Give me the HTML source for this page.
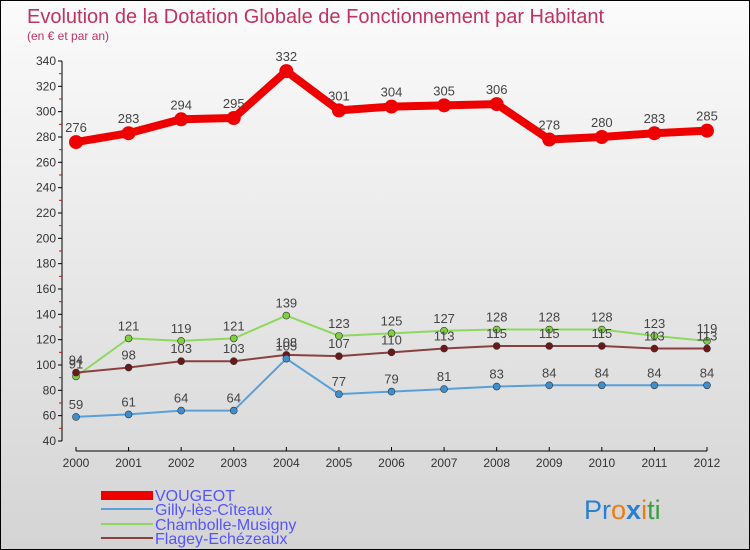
<!DOCTYPE html>
<html><head><meta charset="utf-8"><style>
body{margin:0;}
#c{width:748px;height:548px;border:1px solid #000;background:linear-gradient(#fbfbfb,#d4d4d4);position:relative;font-family:"Liberation Sans","DejaVu Sans",sans-serif;overflow:hidden}
</style></head><body>
<div id="c">
<svg width="748" height="548" id="svg" style="position:absolute;left:0;top:0">
<text x="26" y="22" font-size="20" fill="#c0335f">Evolution de la Dotation Globale de Fonctionnement par Habitant</text>
<text x="26" y="39" font-size="12" fill="#c0335f">(en € et par an)</text>
<g id="axes"></g><g id="series"></g>
<g font-size="16" fill="#5555ff">
<rect x="100" y="490" width="52" height="9" fill="#e00"/>
<text x="154" y="500">VOUGEOT</text>
<line x1="100" y1="508" x2="152" y2="508" stroke="#5aa0d8" stroke-width="2"/>
<text x="154" y="514">Gilly-lès-Cîteaux</text>
<line x1="100" y1="523" x2="152" y2="523" stroke="#8fd860" stroke-width="2"/>
<text x="154" y="529">Chambolle-Musigny</text>
<line x1="100" y1="537" x2="152" y2="537" stroke="#8b4040" stroke-width="2"/>
<text x="154" y="543">Flagey-Echézeaux</text>
</g>
<text x="583" y="518" font-size="27"><tspan fill="#2a7fd0">Pr</tspan><tspan fill="#f07a10">o</tspan><tspan fill="#2a7fd0" font-weight="bold">x</tspan><tspan fill="#f07a10">i</tspan><tspan fill="#3aa040">ti</tspan></text>
</svg>
</div>
<script>
const years=[2000,2001,2002,2003,2004,2005,2006,2007,2008,2009,2010,2011,2012];
const yTicks=[40,60,80,100,120,140,160,180,200,220,240,260,280,300,320,340];
const vougeot=[276,283,294,295,332,301,304,305,306,278,280,283,285];
const gilly=[59,61,64,64,105,77,79,81,83,84,84,84,84];
const chambolle=[91,121,119,121,139,123,125,127,128,128,128,123,119];
const flagey=[94,98,103,103,108,107,110,113,115,115,115,113,113];
const NS="http://www.w3.org/2000/svg";
const xs=i=>75+i*(706-75)/(years.length-1);
const ys=v=>440-(v-40)*380/300;
function mk(t,a,p){const e=document.createElementNS(NS,t);for(const k in a)e.setAttribute(k,a[k]);p.appendChild(e);return e;}
const ax=document.getElementById('axes');
let l=mk('line',{x1:61,y1:60,x2:61,y2:440,stroke:'#000'},ax);


l=mk('line',{x1:75,y1:450,x2:706,y2:450,stroke:'#000'},ax);


yTicks.forEach(v=>{const y=ys(v);mk('line',{x1:57,y1:y,x2:61,y2:y,stroke:'#000'},ax);
mk('line',{x1:58,y1:y+12.67,x2:61,y2:y+12.67,stroke:'#e00'},ax).setAttribute('visibility',v>40?'visible':'hidden');
const t=mk('text',{x:55,y:y+4,'font-size':12,'text-anchor':'end',fill:'#333'},ax);t.textContent=v;

});
years.forEach((yr,i)=>{const x=xs(i);mk('line',{x1:x,y1:446,x2:x,y2:450,stroke:'#000'},ax);
const t=mk('text',{x:x,y:466,'font-size':12,'text-anchor':'middle',fill:'#333'},ax);t.textContent=yr;

});
const sg=document.getElementById('series');
function draw(name,data,col,w,r,dot){
 const g=mk('g',{},sg);
 
 
 const pl=mk('polyline',{points:data.map((v,i)=>xs(i)+','+ys(v)).join(' '),fill:'none',stroke:col,'stroke-width':w,'stroke-linejoin':'round'},g);
 
 
 data.forEach((v,i)=>{const c=mk('circle',{cx:xs(i),cy:ys(v),r:r,fill:dot,stroke:'#333','stroke-width':w>3?0:0.6},g);
 
 
 const t=mk('text',{x:xs(i),y:ys(v)-(w>3?10:8),'font-size':13,'text-anchor':'middle',fill:'#444'},g);t.textContent=v;
 
 });
}
draw('chambolle',chambolle,'#8fd860',2,3.5,'#7ed040');
draw('flagey',flagey,'#8b4040',2,3.5,'#6b1818');
draw('gilly',gilly,'#5aa0d8',2,3.5,'#3d8fd0');
draw('vougeot',vougeot,'#e00',8,7,'#e00');
</script>
</body></html>
